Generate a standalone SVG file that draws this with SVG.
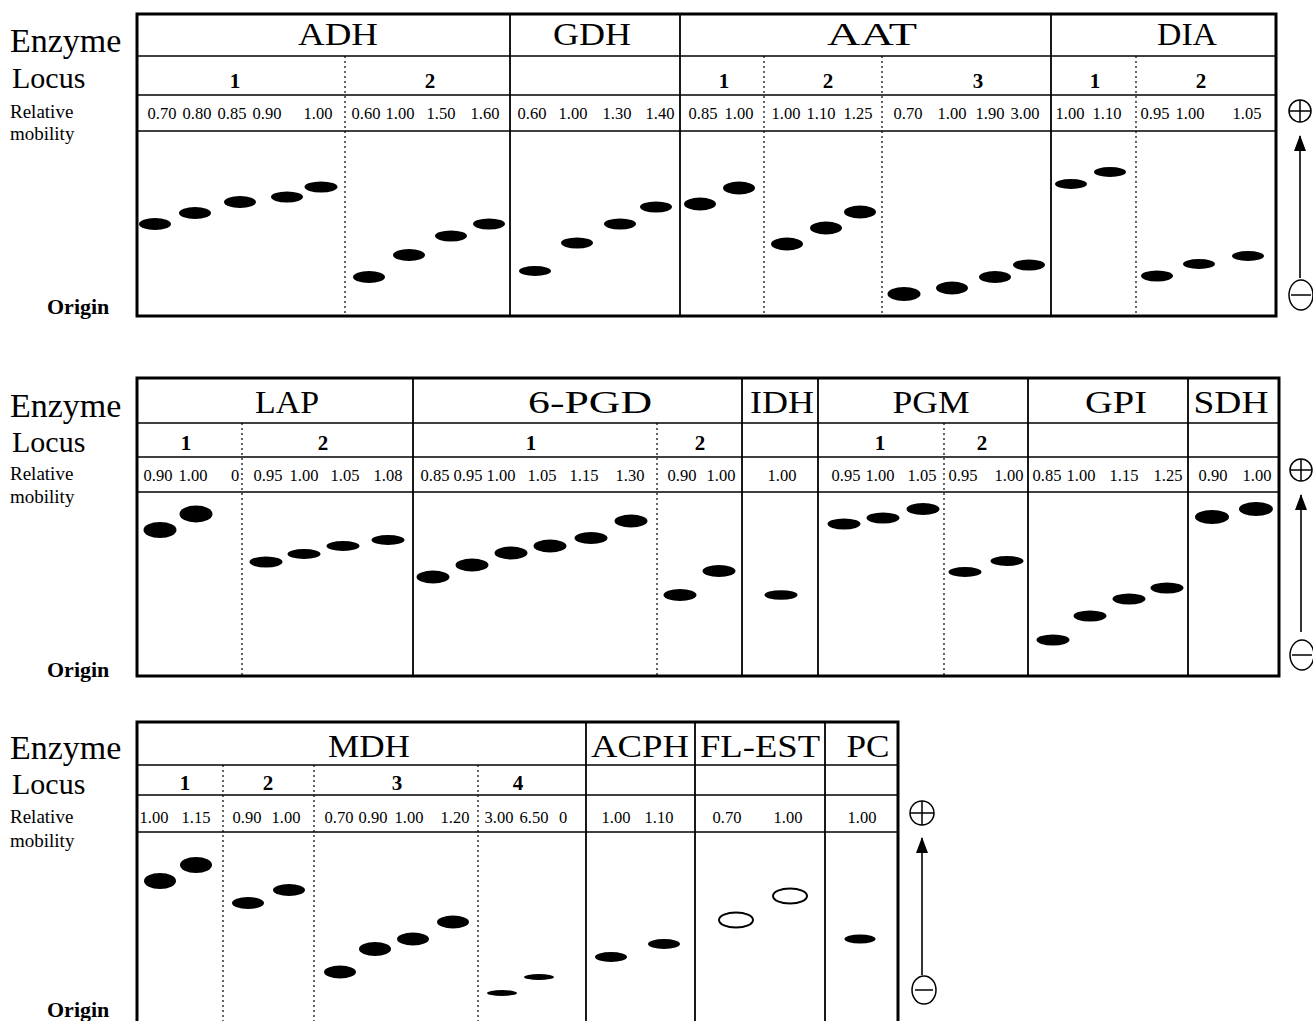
<svg xmlns="http://www.w3.org/2000/svg" width="1313" height="1021" viewBox="0 0 1313 1021">
<style>
text{font-family:"Liberation Serif","Times New Roman",serif;fill:#000}
.lab1{font-size:34px}
.lab2{font-size:30px}
.lab3{font-size:19px}
.orig{font-size:22px;font-weight:bold}
.enz{font-size:32px;text-anchor:middle}
.loc{font-size:21px;font-weight:bold;text-anchor:middle}
.mob{font-size:16.5px;text-anchor:middle}
.frame{fill:none;stroke:#000;stroke-width:3}
.row{stroke:#000;stroke-width:1.6}
.div{stroke:#000;stroke-width:1.8}
.dot{stroke:#000;stroke-width:1.2;stroke-dasharray:2 3}
.band{fill:#000}
.open{fill:#fff;stroke:#000;stroke-width:2}
.pol{fill:none;stroke:#000;stroke-width:1.5}
.arr{stroke:#000;stroke-width:1.6}
</style>
<defs>
<marker id="ah" viewBox="0 0 16 12" refX="15" refY="6" markerWidth="16" markerHeight="12" markerUnits="userSpaceOnUse" orient="auto">
<path d="M0,0 L16,6 L0,12 Z" fill="#000"/>
</marker>
</defs>

<!-- ================= TOP PANEL ================= -->
<g id="labels-top">
<text class="lab1" x="10" y="52">Enzyme</text>
<text class="lab2" x="12" y="88">Locus</text>
<text class="lab3" x="10" y="118">Relative</text>
<text class="lab3" x="10" y="140">mobility</text>
<text class="orig" x="47" y="314">Origin</text>
</g>
<g id="frame-top">
<rect class="frame" x="137" y="14" width="1139" height="302"/>
<line class="row" x1="137" y1="56" x2="1276" y2="56"/>
<line class="row" x1="137" y1="95" x2="1276" y2="95"/>
<line class="row" x1="137" y1="131" x2="1276" y2="131"/>
<line class="div" x1="510" y1="14" x2="510" y2="316"/>
<line class="div" x1="680" y1="14" x2="680" y2="316"/>
<line class="div" x1="1051" y1="14" x2="1051" y2="316"/>
</g>
<g id="ADH">
<text class="enz" x="338" y="45" textLength="80" lengthAdjust="spacingAndGlyphs">ADH</text>
<line class="dot" x1="345" y1="56" x2="345" y2="316"/>
<text class="loc" x="235" y="88">1</text>
<text class="loc" x="430" y="88">2</text>
<text class="mob" y="119"><tspan x="162">0.70</tspan><tspan x="197">0.80</tspan><tspan x="232">0.85</tspan><tspan x="267">0.90</tspan><tspan x="318">1.00</tspan></text>
<text class="mob" y="119"><tspan x="366">0.60</tspan><tspan x="400">1.00</tspan><tspan x="441">1.50</tspan><tspan x="485">1.60</tspan></text>
<ellipse class="band" cx="155" cy="224" rx="16" ry="6"/>
<ellipse class="band" cx="195" cy="213" rx="16" ry="6"/>
<ellipse class="band" cx="240" cy="202" rx="16" ry="6"/>
<ellipse class="band" cx="287" cy="197" rx="16" ry="5.5"/>
<ellipse class="band" cx="321" cy="187" rx="16.5" ry="5.5"/>
<ellipse class="band" cx="369" cy="277" rx="16" ry="6"/>
<ellipse class="band" cx="409" cy="255" rx="16" ry="6"/>
<ellipse class="band" cx="451" cy="236" rx="16" ry="5.5"/>
<ellipse class="band" cx="489" cy="224" rx="16" ry="5.5"/>
</g>
<g id="GDH">
<text class="enz" x="592" y="45" textLength="78" lengthAdjust="spacingAndGlyphs">GDH</text>
<text class="mob" y="119"><tspan x="532">0.60</tspan><tspan x="573">1.00</tspan><tspan x="617">1.30</tspan><tspan x="660">1.40</tspan></text>
<ellipse class="band" cx="535" cy="271" rx="16" ry="5"/>
<ellipse class="band" cx="577" cy="243" rx="16" ry="5.5"/>
<ellipse class="band" cx="620" cy="224" rx="16" ry="5.5"/>
<ellipse class="band" cx="656" cy="207" rx="16" ry="5.5"/>
</g>
<g id="AAT">
<text class="enz" x="872" y="45" textLength="90" lengthAdjust="spacingAndGlyphs">AAT</text>
<line class="dot" x1="764" y1="56" x2="764" y2="316"/>
<line class="dot" x1="882" y1="56" x2="882" y2="316"/>
<text class="loc" x="724" y="88">1</text>
<text class="loc" x="828" y="88">2</text>
<text class="loc" x="978" y="88">3</text>
<text class="mob" y="119"><tspan x="703">0.85</tspan><tspan x="739">1.00</tspan></text>
<text class="mob" y="119"><tspan x="786">1.00</tspan><tspan x="821">1.10</tspan><tspan x="858">1.25</tspan></text>
<text class="mob" y="119"><tspan x="908">0.70</tspan><tspan x="952">1.00</tspan><tspan x="990">1.90</tspan><tspan x="1025">3.00</tspan></text>
<ellipse class="band" cx="700" cy="204" rx="16" ry="6.5"/>
<ellipse class="band" cx="739" cy="188" rx="16" ry="6.5"/>
<ellipse class="band" cx="787" cy="244" rx="16" ry="6.5"/>
<ellipse class="band" cx="826" cy="228" rx="16" ry="6.5"/>
<ellipse class="band" cx="860" cy="212" rx="16" ry="6.5"/>
<ellipse class="band" cx="904" cy="294" rx="16.5" ry="7"/>
<ellipse class="band" cx="952" cy="288" rx="16" ry="6.5"/>
<ellipse class="band" cx="995" cy="277" rx="16" ry="6"/>
<ellipse class="band" cx="1029" cy="265" rx="16" ry="5.5"/>
</g>
<g id="DIA">
<text class="enz" x="1187" y="45" textLength="60" lengthAdjust="spacingAndGlyphs">DIA</text>
<line class="dot" x1="1136" y1="56" x2="1136" y2="316"/>
<text class="loc" x="1095" y="88">1</text>
<text class="loc" x="1201" y="88">2</text>
<text class="mob" y="119"><tspan x="1070">1.00</tspan><tspan x="1107">1.10</tspan></text>
<text class="mob" y="119"><tspan x="1155">0.95</tspan><tspan x="1190">1.00</tspan><tspan x="1247">1.05</tspan></text>
<ellipse class="band" cx="1071" cy="184" rx="16" ry="5"/>
<ellipse class="band" cx="1110" cy="172" rx="16" ry="5"/>
<ellipse class="band" cx="1157" cy="276" rx="16" ry="5.5"/>
<ellipse class="band" cx="1199" cy="264" rx="16" ry="5"/>
<ellipse class="band" cx="1248" cy="256" rx="16" ry="5"/>
</g>

<!-- ================= MIDDLE PANEL ================= -->
<g id="labels-mid">
<text class="lab1" x="10" y="417">Enzyme</text>
<text class="lab2" x="12" y="452">Locus</text>
<text class="lab3" x="10" y="480">Relative</text>
<text class="lab3" x="10" y="503">mobility</text>
<text class="orig" x="47" y="677">Origin</text>
</g>
<g id="frame-mid">
<rect class="frame" x="137" y="378" width="1142" height="298"/>
<line class="row" x1="137" y1="423" x2="1279" y2="423"/>
<line class="row" x1="137" y1="457" x2="1279" y2="457"/>
<line class="row" x1="137" y1="492" x2="1279" y2="492"/>
<line class="div" x1="413" y1="378" x2="413" y2="676"/>
<line class="div" x1="742" y1="378" x2="742" y2="676"/>
<line class="div" x1="818" y1="378" x2="818" y2="676"/>
<line class="div" x1="1028" y1="378" x2="1028" y2="676"/>
<line class="div" x1="1188" y1="378" x2="1188" y2="676"/>
</g>
<g id="LAP">
<text class="enz" x="287" y="413" textLength="64" lengthAdjust="spacingAndGlyphs">LAP</text>
<line class="dot" x1="242" y1="423" x2="242" y2="676"/>
<text class="loc" x="186" y="450">1</text>
<text class="loc" x="323" y="450">2</text>
<text class="mob" y="481"><tspan x="158">0.90</tspan><tspan x="193">1.00</tspan><tspan x="235">0</tspan></text>
<text class="mob" y="481"><tspan x="268">0.95</tspan><tspan x="304">1.00</tspan><tspan x="345">1.05</tspan><tspan x="388">1.08</tspan></text>
<ellipse class="band" cx="160" cy="530" rx="16.5" ry="8"/>
<ellipse class="band" cx="196" cy="514" rx="16.5" ry="8.5"/>
<ellipse class="band" cx="266" cy="562" rx="16.5" ry="5.5"/>
<ellipse class="band" cx="304" cy="554" rx="16.5" ry="5"/>
<ellipse class="band" cx="343" cy="546" rx="16.5" ry="5"/>
<ellipse class="band" cx="388" cy="540" rx="16.5" ry="5"/>
</g>
<g id="PGD6">
<text class="enz" x="590" y="413" textLength="124" lengthAdjust="spacingAndGlyphs">6-PGD</text>
<line class="dot" x1="657" y1="423" x2="657" y2="676"/>
<text class="loc" x="531" y="450">1</text>
<text class="loc" x="700" y="450">2</text>
<text class="mob" y="481"><tspan x="435">0.85</tspan><tspan x="468">0.95</tspan><tspan x="501">1.00</tspan><tspan x="542">1.05</tspan><tspan x="584">1.15</tspan><tspan x="630">1.30</tspan></text>
<text class="mob" y="481"><tspan x="682">0.90</tspan><tspan x="721">1.00</tspan></text>
<ellipse class="band" cx="433" cy="577" rx="16.5" ry="6.5"/>
<ellipse class="band" cx="472" cy="565" rx="16.5" ry="6.5"/>
<ellipse class="band" cx="511" cy="553" rx="16.5" ry="6.5"/>
<ellipse class="band" cx="550" cy="546" rx="16.5" ry="6.5"/>
<ellipse class="band" cx="591" cy="538" rx="16.5" ry="6"/>
<ellipse class="band" cx="631" cy="521" rx="16.5" ry="6.5"/>
<ellipse class="band" cx="680" cy="595" rx="16.5" ry="6"/>
<ellipse class="band" cx="719" cy="571" rx="16.5" ry="6"/>
</g>
<g id="IDH">
<text class="enz" x="782" y="413" textLength="64" lengthAdjust="spacingAndGlyphs">IDH</text>
<text class="mob" y="481"><tspan x="782">1.00</tspan></text>
<ellipse class="band" cx="781" cy="595" rx="16.5" ry="4.8"/>
</g>
<g id="PGM">
<text class="enz" x="931" y="413" textLength="77" lengthAdjust="spacingAndGlyphs">PGM</text>
<line class="dot" x1="944" y1="423" x2="944" y2="676"/>
<text class="loc" x="880" y="450">1</text>
<text class="loc" x="982" y="450">2</text>
<text class="mob" y="481"><tspan x="846">0.95</tspan><tspan x="880">1.00</tspan><tspan x="922">1.05</tspan></text>
<text class="mob" y="481"><tspan x="963">0.95</tspan><tspan x="1009">1.00</tspan></text>
<ellipse class="band" cx="844" cy="524" rx="16.5" ry="5.5"/>
<ellipse class="band" cx="883" cy="518" rx="16.5" ry="5.5"/>
<ellipse class="band" cx="923" cy="509" rx="16.5" ry="6"/>
<ellipse class="band" cx="965" cy="572" rx="16.5" ry="5"/>
<ellipse class="band" cx="1007" cy="561" rx="16.5" ry="5"/>
</g>
<g id="GPI">
<text class="enz" x="1116" y="413" textLength="62" lengthAdjust="spacingAndGlyphs">GPI</text>
<text class="mob" y="481"><tspan x="1047">0.85</tspan><tspan x="1081">1.00</tspan><tspan x="1124">1.15</tspan><tspan x="1168">1.25</tspan></text>
<ellipse class="band" cx="1053" cy="640" rx="16.5" ry="5.5"/>
<ellipse class="band" cx="1090" cy="616" rx="16.5" ry="5.5"/>
<ellipse class="band" cx="1129" cy="599" rx="16.5" ry="5.5"/>
<ellipse class="band" cx="1167" cy="588" rx="16.5" ry="5.5"/>
</g>
<g id="SDH">
<text class="enz" x="1231" y="413" textLength="75" lengthAdjust="spacingAndGlyphs">SDH</text>
<text class="mob" y="481"><tspan x="1213">0.90</tspan><tspan x="1257">1.00</tspan></text>
<ellipse class="band" cx="1212" cy="517" rx="17" ry="7"/>
<ellipse class="band" cx="1256" cy="509" rx="17" ry="7"/>
</g>

<!-- ================= BOTTOM PANEL ================= -->
<g id="labels-bot">
<text class="lab1" x="10" y="759">Enzyme</text>
<text class="lab2" x="12" y="794">Locus</text>
<text class="lab3" x="10" y="823">Relative</text>
<text class="lab3" x="10" y="847">mobility</text>
<text class="orig" x="47" y="1017">Origin</text>
</g>
<g id="frame-bot">
<path class="frame" d="M137,1030 V722 H898 V1030"/>
<line class="row" x1="137" y1="765" x2="898" y2="765"/>
<line class="row" x1="137" y1="795" x2="898" y2="795"/>
<line class="row" x1="137" y1="832" x2="898" y2="832"/>
<line class="div" x1="586" y1="722" x2="586" y2="1021"/>
<line class="div" x1="695" y1="722" x2="695" y2="1021"/>
<line class="div" x1="825" y1="722" x2="825" y2="1021"/>
</g>
<g id="MDH">
<text class="enz" x="369" y="757" textLength="82" lengthAdjust="spacingAndGlyphs">MDH</text>
<line class="dot" x1="223" y1="765" x2="223" y2="1021"/>
<line class="dot" x1="314" y1="765" x2="314" y2="1021"/>
<line class="dot" x1="478" y1="765" x2="478" y2="1021"/>
<text class="loc" x="185" y="790">1</text>
<text class="loc" x="268" y="790">2</text>
<text class="loc" x="397" y="790">3</text>
<text class="loc" x="518" y="790">4</text>
<text class="mob" y="823"><tspan x="154">1.00</tspan><tspan x="196">1.15</tspan></text>
<text class="mob" y="823"><tspan x="247">0.90</tspan><tspan x="286">1.00</tspan></text>
<text class="mob" y="823"><tspan x="339">0.70</tspan><tspan x="373">0.90</tspan><tspan x="409">1.00</tspan><tspan x="455">1.20</tspan></text>
<text class="mob" y="823"><tspan x="499">3.00</tspan><tspan x="534">6.50</tspan><tspan x="563">0</tspan></text>
<ellipse class="band" cx="160" cy="881" rx="16" ry="8"/>
<ellipse class="band" cx="196" cy="865" rx="16" ry="8"/>
<ellipse class="band" cx="248" cy="903" rx="16" ry="6"/>
<ellipse class="band" cx="289" cy="890" rx="16" ry="6"/>
<ellipse class="band" cx="340" cy="972" rx="16" ry="6.5"/>
<ellipse class="band" cx="375" cy="949" rx="16" ry="7"/>
<ellipse class="band" cx="413" cy="939" rx="16" ry="6.5"/>
<ellipse class="band" cx="453" cy="922" rx="16" ry="6.5"/>
<ellipse class="band" cx="502" cy="993" rx="15" ry="3"/>
<ellipse class="band" cx="539" cy="977" rx="15" ry="3"/>
</g>
<g id="ACPH">
<text class="enz" x="640" y="757" textLength="98" lengthAdjust="spacingAndGlyphs">ACPH</text>
<text class="mob" y="823"><tspan x="616">1.00</tspan><tspan x="659">1.10</tspan></text>
<ellipse class="band" cx="611" cy="957" rx="16" ry="5"/>
<ellipse class="band" cx="664" cy="944" rx="16" ry="5"/>
</g>
<g id="FL-EST">
<text class="enz" x="760" y="757" textLength="120" lengthAdjust="spacingAndGlyphs">FL-EST</text>
<text class="mob" y="823"><tspan x="727">0.70</tspan><tspan x="788">1.00</tspan></text>
<ellipse class="open" cx="736" cy="920" rx="17" ry="7.5"/>
<ellipse class="open" cx="790" cy="896" rx="17" ry="7.5"/>
</g>
<g id="PC">
<text class="enz" x="868" y="757" textLength="43" lengthAdjust="spacingAndGlyphs">PC</text>
<text class="mob" y="823"><tspan x="862">1.00</tspan></text>
<ellipse class="band" cx="860" cy="939" rx="15.5" ry="4.5"/>
</g>

<!-- ================= POLARITY ARROWS ================= -->
<g id="connectors">
<circle class="pol" cx="1300" cy="111" r="11"/>
<path class="pol" d="M1300,100 V122 M1289,111 H1311"/>
<line class="arr" x1="1300" y1="278" x2="1300" y2="136" marker-end="url(#ah)"/>
<ellipse class="pol" cx="1301" cy="295" rx="12" ry="15"/>
<path class="pol" d="M1291,295 H1311" stroke-width="2"/>

<circle class="pol" cx="1301" cy="470" r="11"/>
<path class="pol" d="M1301,459 V481 M1290,470 H1312"/>
<line class="arr" x1="1301" y1="632" x2="1301" y2="495" marker-end="url(#ah)"/>
<ellipse class="pol" cx="1302" cy="655" rx="12" ry="15"/>
<path class="pol" d="M1292,655 H1312" stroke-width="2"/>

<circle class="pol" cx="922" cy="813" r="12"/>
<path class="pol" d="M922,801 V825 M910,813 H934"/>
<line class="arr" x1="922" y1="975" x2="922" y2="838" marker-end="url(#ah)"/>
<ellipse class="pol" cx="924" cy="990" rx="12" ry="14"/>
<path class="pol" d="M915,990 H933" stroke-width="2"/>
</g>
</svg>
